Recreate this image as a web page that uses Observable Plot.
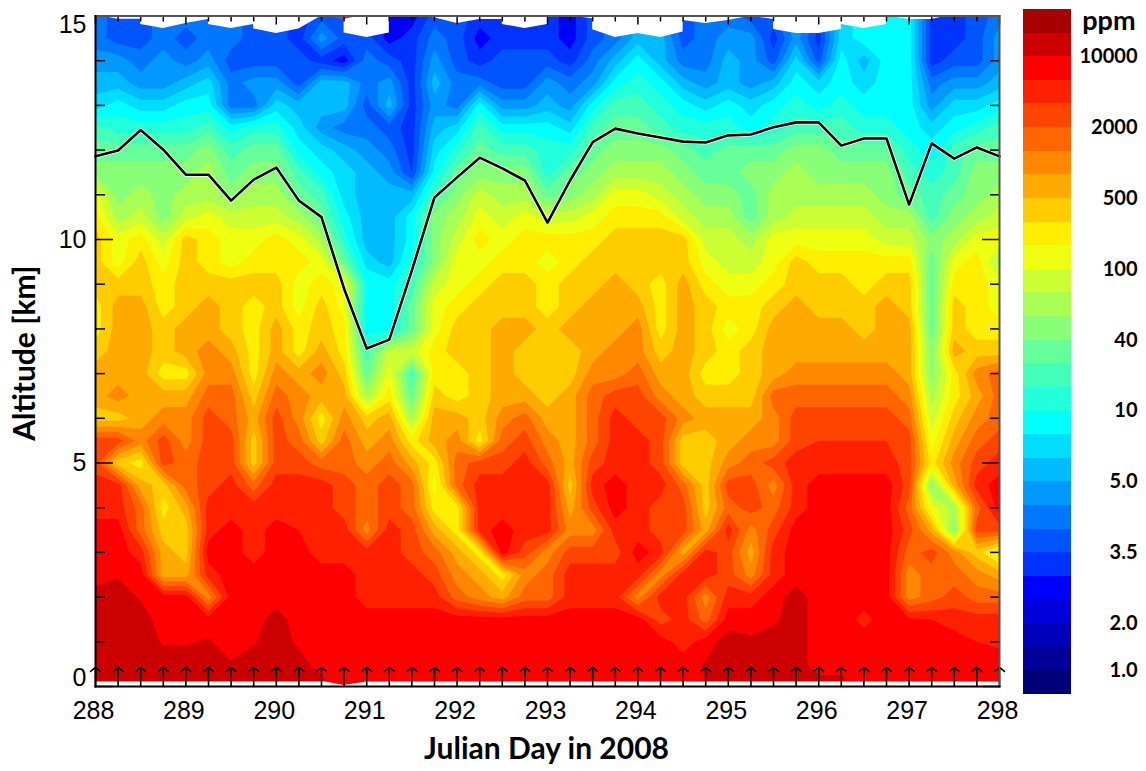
<!DOCTYPE html>
<html><head><meta charset="utf-8">
<script src="https://cdn.jsdelivr.net/npm/d3@7"></script>
<script src="https://cdn.jsdelivr.net/npm/@observablehq/plot@0.6"></script>
<style>
html,body{margin:0;padding:0;background:#fff;overflow:hidden}
#chart{position:relative;width:1146px;height:771px}
#chart svg{position:absolute;background:transparent;max-width:none}
</style></head><body><div id="chart"></div>
<script>
// Band colours, level 0 (bottom of the colour bar) to level 28 (top)
const bandColors = ["#000077","#000099","#0000bb","#0000dd","#0000ff","#0033ff","#0055ff","#0077ff","#0099ff","#00bbff","#00ddff","#00ffff","#22ffdd","#44ffbb","#66ff99","#88ff77","#aaff55","#ccff33","#eeff11","#ffee00","#ffcc00","#ffaa00","#ff8800","#ff6600","#ff4400","#ff2000","#ff0000","#cc0000","#a80000"];
const legendLevel = [27,24,21,18,15,12,9,6,3,1];
const legendText = ["10000","2000","500","100","40","10","5.0","3.5","2.0","1.0"];

// Colour-band level read at each 0.25 day (288 ... 298) per altitude
const a150 = [7,6,6,7, 7,7,7,6, 6,5,6,6, 6,4,4,6, 6,5,5,5, 5,4,6,7, 9,8,6,7, 7,6,6,9, 6,10,11,11, 11,5,5,6, 7];
const a145 = [7,6,6,7, 6,7,7,6, 6,5,8,6, 6,4,5,7, 6,4,5,5, 5,4,6,7, 9,9,6,7, 8,8,5,8, 5,10,11,11, 11,5,5,6, 8];
const a140 = [8,8,7,8, 7,8,6,6, 6,6,5,4, 7,6,5,8, 6,5,6,6, 6,5,7,9, 11,9,7,7, 9,8,6,10, 6,11,9,11, 11,5,6,6, 8];
const a135 = [9,9,8,8, 9,10,7,8, 8,6,9,9, 7,8,5,9, 7,7,6,6, 8,7,8,11, 12,11,9,8, 9,8,9,11, 10,11,10,11, 11,7,8,8, 9];
const a130 = [10,11,10,10, 11,11,7,7, 10,9,9,9, 6,9,5,8, 7,11,8,8, 9,8,11,13, 13,12,11,10, 11,10,11,12, 11,12,11,11, 11,8,10,10, 11];
const a125 = [13,12,12,12, 12,13,11,12, 12,10,8,7, 7,6,5,9, 10,13,11,11, 11,10,13,14, 14,13,12,12, 12,11,12,13, 13,13,12,12, 11,10,11,12, 13];
const a120 = [14,14,14,14, 14,15,13,14, 14,11,10,9, 8,7,5,10, 12,14,13,13, 12,12,14,15, 15,15,14,13, 14,14,14,15, 15,14,14,14, 12,11,13,14, 14];
const a115 = [15,15,15,15, 15,16,14,15, 15,13,11,10, 9,8,5.5,11, 14,15,15,15, 12,14,15,16, 16,16,15,14, 14,15,15,16, 15,15,15,15, 13,12,13,15, 15];
const a110 = [18,15,16,15, 16,16,15,16, 16,14,13,10, 9,9,9,13, 15,17,16,16, 14,15,16,18, 18,17,16,15, 15,14,16,16, 16,16,16,15, 14,13,14,15, 16];
const a105 = [19,16,17,15, 17,18,17,17, 17,16,14,11, 9,9,11,15, 16,18,17,18, 17,17,18,19, 19,19,17,16, 16,14,16,17, 17,17,17,16, 16,13,15,16, 17];
const a100 = [20,18,19,17, 20,19,18,18, 19,18,16,12, 9,9,11,15, 17,19,18,19, 19,19,19,20, 20,20,20,17, 17,16,18,18, 18,18,18,17, 17,15,16,18, 18];
const a095 = [20,18,20,18, 20,19,18,19, 19,19,18,14, 10,9,12,15, 18,18,19,19, 18,19,20,20, 20,20,20,18, 17,17,18,20, 19,19,19,19, 19,14,18,19, 16];
const a090 = [20,20,20,19, 20,20,20,20, 20,18,19,18, 11.5,11,13,17, 18,19,20,20, 19,20,20,21, 20,19,21,19, 18,18,19,20, 20,20,19,20, 20,14,19,19, 18];
const a085 = [19,21,21,19, 20,21,20,19, 20,18,20,18, 11,11,14,18, 19,20,20,20, 19,20,21,21, 21,19,21,20, 19,19,20,21, 20,20,20,21, 20,14,20,19, 18];
const a080 = [19,21,21,20, 21,21,20,19, 21,19,20,19, 11,11,14,18, 20,20,21,21, 20,21,21,21, 22,19,21,20, 18,19,21,21, 21,21,20,21, 21,14,20,19, 19];
const a075 = [20,21,21,20, 21,22,21,19, 21,19,21,19, 13,17,17,19, 20,20,21,20, 20,20,21,22, 22,20,21,20, 19,20,21,21, 21,21,21,21, 21,15,21,20, 20];
const a070 = [21,21,21,19, 19,22,22,19, 22,21,22,20, 14,18,13,19, 19,20,21,20, 20,20,22,22, 23,21,21,19, 19,20,21,22, 22,22,22,22, 21,15,19,22, 23];
const a065 = [21,22,21,21, 21,23,23,20, 23,22,21,21, 16,19,14,20, 19,20,21,21, 20,21,23,24, 24,22,21,20, 20,20,23,23, 23,23,23,23, 22,16,19,21, 23];
const a060 = [20,20,21,22, 22,24,23,21, 24,22,19,22, 20,21,16,21, 21,20,22,23, 21,21,23,25, 24,24,22,21, 21,21,22,24, 24,24,24,24, 23,17,20,22, 23];
const a055 = [24,24,22,24, 22,24,24,20, 24,23,20,23, 21,22,19,21, 22,19,23,24, 22,21,23,25, 25,24,20,20, 21,22,22,24, 24.5,24.5,24.5,24.5, 24,18,21,23, 24];
const a050 = [24,20,19,24, 23,24,24,20, 24,24,23,23, 22,23,21,19, 23,24,24,25, 23,21,24,25, 25,24,20,20, 22,23,24,25, 25,25,25,25, 24,19,22,24, 25];
const a045 = [25,25,21,20, 23,24,25,23, 25,25,25,24, 23,24,23,18, 23,25,25,25, 25,20,25,26, 25,25,23,20, 24,24,22,25, 26,26,26,26, 24,15,21,25, 26];
const a040 = [25,25,23,19, 21,25,25,25, 25,25,25,24, 23,24,23,19, 19,25,25,25, 25,21,24,26, 25,24,24,20, 23,24,23,25, 26,26,26,26, 23,18,16,23, 26];
const a035 = [26,26,23,20, 20,25,26,25, 26,25.5,25,25, 22,25,24,21, 19,25,26,25, 25,22,22,25, 25,24,24,21, 25,22,24,26, 26,26,26,26, 24,21,15,24, 24];
const a030 = [26,26,25,21, 20,26,26,25, 26,26,25,25, 25,25,24,23, 21,19,26,24, 22,24,24,24, 26,25,21,25, 24,21,25,26, 26,26,26,26, 23,24,22,20, 18];
const a025 = [26,26.4,26,21, 21,25,26,26, 26,26,26,26, 25,25,25,24, 22,21,19,22, 23,25,25,25, 25,22,25,25, 24,22,25,26, 26,26,26,26, 22,23,23,22, 21];
const a020 = [27,27,26.4,26, 26,22,26,26, 26,26,26,26, 25,25,25,25, 23,22,21,23, 23,25,25,25, 22,25,25,22, 25,25,26,27, 26,26,26,26, 22,23,24,23, 23];
const a015 = [27,27,27,26, 26,26,26,26, 27,26,26,26, 26,26,26,26, 26,26,26,26, 26,26,26,26, 26,24,25,23, 26,26,26.3,27, 26,26,25.2,26, 25.7,25.5,25,25, 25];
const a010 = [27,27,27,26.4, 26.4,26.6,26,26.4, 27,26.3,26,26, 26,26,26,26, 26,26,26,26, 26,26,26,26, 26,26,25,26, 27,26.7,27,27, 26,26,26,26, 26,26,26,25.5, 25.3];
const a005 = [27,27,27,27, 27,27,26.6,27, 27,27,26,26, 26,26,26,26, 26,26,26,26, 26,26,26,26, 26,26,26,26.6, 27,27,27,27, 26,26,26,26, 26,26,26,26, 26];
const a000 = [27,27,27,27, 27,27,27,27, 27,27,27,26, 26,26,26,26, 26,26,26,26, 26,26,26,26, 26,26,26,26.5, 27,27,27,27, 27,27,26,26, 26,26,26,26, 26];

const rows = [a150,a145,a140,a135,a130,a125,a120,a115,a110,a105,a100,a095,a090,a085,a080,a075,a070,a065,a060,a055,a050,a045,a040,a035,a030,a025,a020,a015,a010,a005,a000];
rows.forEach((r,i)=>{ if (r.length!==41) throw new Error("row "+i+" has "+r.length); });

const days = [288,288.25,288.5,288.75,289,289.25,289.5,289.75,290,290.25,290.5,290.75,291,291.25,291.5,291.75,292,292.25,292.5,292.75,293,293.25,293.5,293.75,294,294.25,294.5,294.75,295,295.25,295.5,295.75,296,296.25,296.5,296.75,297,297.25,297.5,297.75,298];
const tropopause = [11.86,11.99,12.45,12.01,11.45,11.45,10.87,11.34,11.61,10.87,10.50,8.90,7.56,7.76,9.31,10.94,11.39,11.83,11.59,11.32,10.38,11.32,12.18,12.48,12.37,12.28,12.19,12.17,12.33,12.35,12.51,12.62,12.62,12.10,12.26,12.26,10.78,12.15,11.81,12.06,11.86];

// Upper limit of the data (white notches at the top of the panel)
const ceilDay = [288,288.06,288.25,288.5,288.5,288.75,289,289.25,289.25,289.5,289.75,289.75,290,290.25,290.5,290.75,290.75,291,291.25,291.25,291.6,291.75,292,292.25,292.5,292.5,292.75,293,293,293.25,293.5,293.5,293.75,294,294.25,294.5,294.5,294.75,295,295.25,295.5,295.5,295.75,296,296.25,296.25,296.5,296.75,296.75,297,297.25,297.42,298];
const ceilAlt = [15,15,14.93,14.93,14.81,14.72,14.83,14.92,14.81,14.72,14.81,14.71,14.61,14.71,15,15,14.62,14.52,14.62,15,15,14.96,14.83,14.92,14.92,14.81,14.72,14.81,15,15,14.94,14.69,14.52,14.61,14.52,14.64,14.9,14.83,14.9,15,14.92,14.7,14.61,14.61,14.7,14.81,14.72,14.81,15,14.92,14.92,15,15];
// Small red cap at the top near day 291
const capDay = [290.54,290.75,290.93];
const capAlt = [15,14.92,15];
// Lower limit of the data
const floorDay = [288,290.55,290.75,291,298];
const floorAlt = [0.1,0.1,0.02,0.1,0.1];

const thresholds = [0.5,1.5,2.5,3.5,4.5,5.5,6.5,7.5,8.5,9.5,10.5,11.5,12.5,13.5,14.5,15.5,16.5,17.5,18.5,19.5,20.5,21.5,22.5,23.5,24.5,25.5,26.5,27.5];
const xTicks = [288,289,290,291,292,293,294,295,296,297,298];
const yMajor = [0,5,10,15];
const yMinor = [1,2,3,4,6,7,8,9,11,12,13,14];

const tickFont = "'Liberation Sans',sans-serif";
const boldFont = "Lato,sans-serif";

const main = Plot.plot({
  width:1146, height:771, marginLeft:95, marginRight:147, marginTop:15.5, marginBottom:85,
  x:{domain:[288,298]}, y:{domain:[0,15]},
  color:{type:"threshold", domain:thresholds, range:bandColors},
  style:{background:"transparent"},
  marks:[
    Plot.contour(rows.flat(), {x1:287.875, x2:298.125, y1:15.25, y2:-0.25, width:41, height:31, value:d=>d, fill:"value", thresholds, clip:true, stroke:"none"}),
    Plot.area(ceilDay, {x1:ceilDay, y1:ceilAlt, y2:ceilDay.map(()=>15), fill:"white", clip:true}),
    Plot.area(capDay, {x1:capDay, y1:capAlt, y2:capDay.map(()=>15), fill:"#ff3300", clip:true}),
    Plot.area(floorDay, {x1:floorDay, y1:floorAlt, y2:floorDay.map(()=>0), fill:"white", clip:true}),
    Plot.line(days, {x:days, y:tropopause, stroke:"white", strokeWidth:4}),
    Plot.line(days, {x:days, y:tropopause, stroke:"black", strokeWidth:2.6}),
    Plot.arrow(days, {x:days, y1:days.map(()=>0), y2:days.map(()=>0.43), stroke:"black", strokeWidth:1.6, bend:0, headAngle:100, headLength:9}),
    Plot.axisY({anchor:"left", ticks:yMajor, tickSize:-18, text:null, label:null, strokeWidth:1.5}),
    Plot.axisY({anchor:"left", ticks:yMinor, tickSize:-10, text:null, label:null, strokeWidth:1.5}),
    Plot.axisY({anchor:"right", ticks:yMajor, tickSize:-18, text:null, label:null, strokeWidth:1.5}),
    Plot.axisY({anchor:"right", ticks:yMinor, tickSize:-10, text:null, label:null, strokeWidth:1.5}),
    Plot.axisX({anchor:"top", ticks:xTicks, tickSize:-8, text:null, label:null, strokeWidth:1.5}),
    Plot.axisX({anchor:"top", ticks:days.filter(d=>d%1!==0), tickSize:-5, text:null, label:null, strokeWidth:1.5}),
    Plot.axisY({anchor:"left", ticks:[5,10], tickSize:0, tickPadding:9, label:null, fontSize:25, fontFamily:tickFont}),
    Plot.axisY({anchor:"left", ticks:[15], tickSize:0, tickPadding:9, label:null, fontSize:25, fontFamily:tickFont, dy:9}),
    Plot.axisY({anchor:"left", ticks:[0], tickSize:0, tickPadding:9, label:null, fontSize:25, fontFamily:tickFont, dy:-9}),
    Plot.axisX({anchor:"bottom", ticks:xTicks, tickSize:0, tickPadding:15, label:null, tickFormat:"d", fontSize:25, fontFamily:tickFont, dx:-2}),
    Plot.frame({anchor:"top", stroke:"#555", strokeWidth:2}),
    Plot.frame({anchor:"right", stroke:"#555", strokeWidth:2}),
    Plot.frame({anchor:"left", stroke:"black", strokeWidth:2}),
    Plot.frame({anchor:"bottom", stroke:"black", strokeWidth:2}),
    Plot.text(["Julian Day in 2008"], {frameAnchor:"bottom", dy:63, dx:-1, lineAnchor:"middle", fontSize:30, fontWeight:700, fontFamily:boldFont, fill:"black"}),
    Plot.text(["Altitude [km]"], {frameAnchor:"left", dx:-70, dy:2, rotate:-90, textAnchor:"middle", fontSize:30, fontWeight:700, fontFamily:boldFont, fill:"black"})
  ]
});
main.style.left="0px"; main.style.top="0px";

const levels = bandColors.map((c,i)=>i);
const legend = Plot.plot({
  width:123, height:771, marginLeft:0, marginRight:75, marginTop:9, marginBottom:77,
  x:{domain:[0,1], axis:null}, y:{domain:[0,29], axis:null},
  style:{background:"transparent"},
  marks:[
    Plot.rect(levels, {x1:()=>0, x2:()=>1, y1:d=>d, y2:d=>d+1, fill:d=>bandColors[d], inset:0, shapeRendering:"crispEdges"}),
    Plot.text(legendText, {y:legendLevel, frameAnchor:"right", dx:66, textAnchor:"end", fontSize:20, fontWeight:700, fontFamily:boldFont, fill:"black"}),
    Plot.text(["ppm"], {y:[28.5], frameAnchor:"right", dx:64, textAnchor:"end", fontSize:27, fontWeight:700, fontFamily:boldFont, fill:"black"})
  ]
});
legend.style.left="1023px"; legend.style.top="0px";
const host=document.getElementById("chart");
host.appendChild(main); host.appendChild(legend);
</script></body></html>
